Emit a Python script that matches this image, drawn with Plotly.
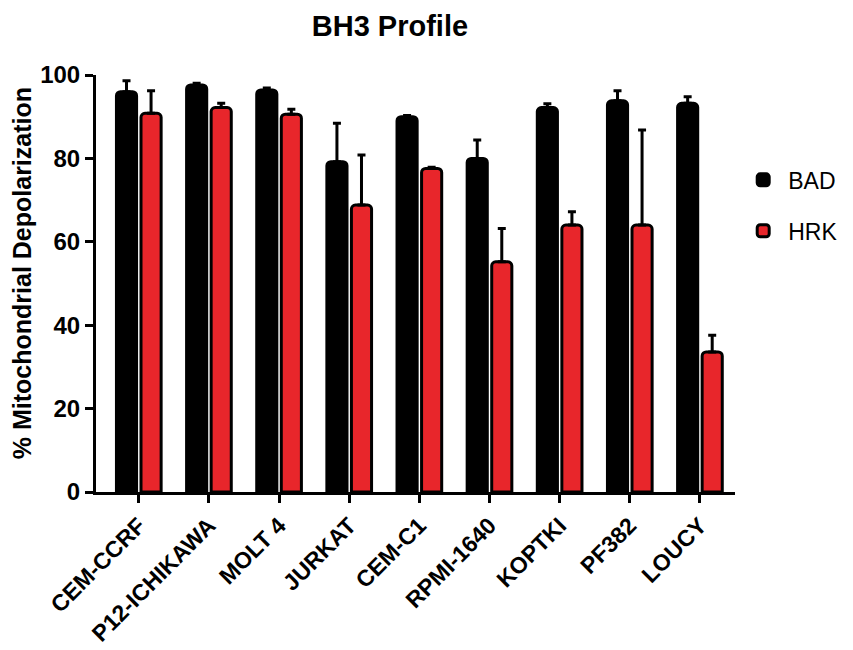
import plotly.graph_objects as go

categories = ["CEM-CCRF", "P12-ICHIKAWA", "MOLT 4", "JURKAT", "CEM-C1",
              "RPMI-1640", "KOPTKI", "PF382", "LOUCY"]
bad_values = [96.0, 97.6, 96.4, 79.2, 90.0, 80.0, 92.2, 93.8, 93.2]
bad_err = [2.6, 0.4, 0.5, 9.2, 0.3, 4.4, 0.9, 2.4, 1.6]
hrk_values = [90.8, 92.2, 90.6, 68.8, 77.6, 55.2, 64.0, 64.0, 33.6]
hrk_err = [5.4, 1.0, 1.2, 12.0, 0.3, 8.0, 3.2, 22.8, 4.0]
y_ticks = [0, 20, 40, 60, 80, 100]

FONT = "Liberation Sans"

fig = go.Figure()
fig.add_trace(go.Bar(
    name="BAD", x=categories, y=bad_values, legendgroup="bad",
    marker=dict(color="#000000", line=dict(color="#000000", width=3), cornerradius=4),
    error_y=dict(type="data", array=bad_err, arrayminus=[0]*len(bad_err), symmetric=False,
                 color="#000000", thickness=3, width=4),
))
fig.add_trace(go.Bar(
    name="HRK", x=categories, y=hrk_values, legendgroup="hrk",
    marker=dict(color="#e8262b", line=dict(color="#000000", width=3), cornerradius=4),
    error_y=dict(type="data", array=hrk_err, arrayminus=[0]*len(hrk_err), symmetric=False,
                 color="#000000", thickness=3, width=4),
))

fig.update_layout(
    width=845, height=642,
    paper_bgcolor="white", plot_bgcolor="white",
    barmode="group", bargap=0.3, bargroupgap=0.18,
    margin=dict(l=88, r=118, t=67, b=158, autoexpand=False),
    font=dict(family=FONT, color="#000000"),
    title=dict(text="<b>BH3 Profile</b>", x=0.452, xanchor="center", y=0.972, yanchor="middle",
               font=dict(size=29, family=FONT, color="#000000")),
    showlegend=True,
    legend=dict(x=1.005, y=0.80, xanchor="left", yanchor="top",
                font=dict(size=23, family=FONT, color="#000000"),
                tracegroupgap=18, itemwidth=40, bgcolor="rgba(0,0,0,0)"),
)
fig.update_xaxes(
    range=[-0.61, 8.5], showline=True, linecolor="#000000", linewidth=3,
    ticks="outside", ticklen=8, tickwidth=3, tickcolor="#000000",
    tickangle=-45, tickfont=dict(size=23, family=FONT, color="#000000", weight="bold"),
    showgrid=False, zeroline=False, automargin=False,
)
fig.update_yaxes(
    range=[0, 100], tickvals=y_ticks, showline=True, linecolor="#000000", linewidth=3,
    ticks="outside", ticklen=8, tickwidth=3, tickcolor="#000000",
    tickfont=dict(size=24, family=FONT, color="#000000", weight="bold"),
    title=dict(text="<b>&nbsp;&nbsp;&nbsp;% Mitochondrial Depolarization</b>", standoff=8,
               font=dict(size=25, family=FONT, color="#000000")),
    showgrid=False, zeroline=False, automargin=False,
)

fig.write_html("out.html")
